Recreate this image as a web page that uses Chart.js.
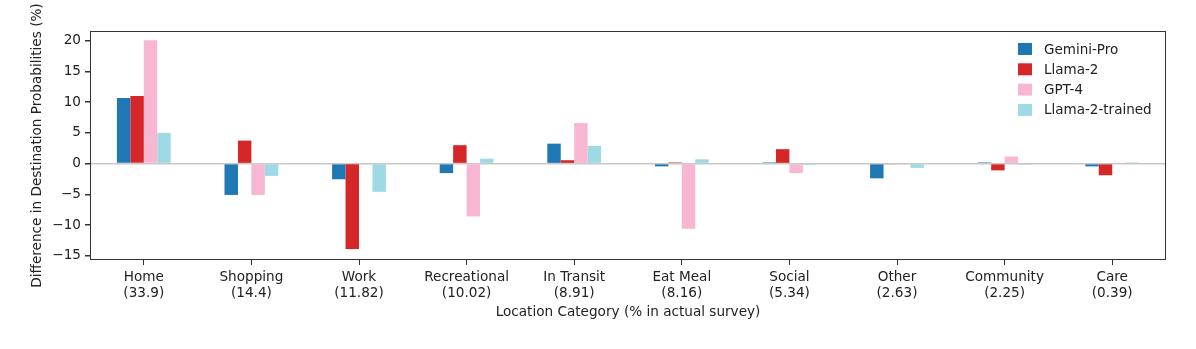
<!DOCTYPE html>
<html>
<head>
<meta charset="utf-8">
<script src="https://cdn.jsdelivr.net/npm/chart.js@4.4.1/dist/chart.umd.min.js"></script>
<style>
  html, body { margin: 0; padding: 0; background: #fff; }
  #wrap { width: 1196px; height: 349px; }
</style>
</head>
<body>
<div id="wrap"><canvas id="grafico"></canvas></div>
<script>
// categorias e valores
const categorias = [
  ['Home', '(33.9)'], ['Shopping', '(14.4)'], ['Work', '(11.82)'],
  ['Recreational', '(10.02)'], ['In Transit', '(8.91)'], ['Eat Meal', '(8.16)'],
  ['Social', '(5.34)'], ['Other', '(2.63)'], ['Community', '(2.25)'], ['Care', '(0.39)']
];
const geminiPro     = [10.7, -5.1, -2.55, -1.55, 3.25, -0.45, 0.2, -2.4, 0.2, -0.45];
const llama2        = [11.0, 3.75, -13.9, 3.0, 0.55, 0.2, 2.35, -0.1, -1.1, -1.9];
const gpt4          = [20.1, -5.1, -0.1, -8.6, 6.6, -10.6, -1.55, -0.1, 1.15, 0.05];
const llama2Trained = [5.0, -2.0, -4.6, 0.8, 2.9, 0.7, -0.25, -0.7, -0.2, 0.2];
const yTicks = [-15, -10, -5, 0, 5, 10, 15, 20];

const fonte = 'DejaVu Sans';
const tamFonte = 13.6;
const corTexto = '#222';

// moldura completa e legenda dentro da área do gráfico
const molduraELegenda = {
  id: 'molduraELegenda',
  afterDraw(chart) {
    const { ctx, chartArea: a } = chart;
    ctx.save();
    ctx.strokeStyle = '#333';
    ctx.lineWidth = 1;
    ctx.strokeRect(a.left + 0.5, a.top + 0.5, a.right - a.left - 1, a.bottom - a.top - 1);

    ctx.font = '13.5px "' + fonte + '"';
    ctx.textBaseline = 'middle';
    chart.data.datasets.forEach((ds, i) => {
      const y = 49 + i * 20.3;
      ctx.fillStyle = ds.backgroundColor;
      ctx.fillRect(1018, y - 6, 14, 12);
      ctx.fillStyle = corTexto;
      ctx.fillText(ds.label, 1044, y + 1);
    });
    ctx.restore();
  }
};

const ctx = document.getElementById('grafico').getContext('2d');
new Chart(ctx, {
  type: 'bar',
  data: {
    labels: categorias,
    datasets: [
      { label: 'Gemini-Pro', data: geminiPro, backgroundColor: '#1f77b4' },
      { label: 'Llama-2', data: llama2, backgroundColor: '#d62728' },
      { label: 'GPT-4', data: gpt4, backgroundColor: '#f7b6d2' },
      { label: 'Llama-2-trained', data: llama2Trained, backgroundColor: '#9edae5' }
    ]
  },
  options: {
    responsive: true,
    maintainAspectRatio: false,
    animation: false,
    layout: { padding: { left: 25, top: 31, right: 30, bottom: 24 } },
    datasets: { bar: { categoryPercentage: 0.5, barPercentage: 1.0 } },
    plugins: { legend: { display: false }, tooltip: { enabled: false } },
    scales: {
      x: {
        afterFit: s => { s.height = 65; },
        grid: { offset: false, drawOnChartArea: false, drawTicks: true, tickLength: 5, tickColor: '#333' },
        border: { display: false },
        ticks: { color: corTexto, font: { family: fonte, size: tamFonte }, padding: 4, maxRotation: 0, autoSkip: false },
        title: { display: true, text: 'Location Category (% in actual survey)', color: corTexto,
                 font: { family: fonte, size: tamFonte }, padding: { top: 2, bottom: 4 } }
      },
      y: {
        min: -15.7,
        max: 21.6,
        afterFit: s => { s.width = 65; },
        afterBuildTicks: s => { s.ticks = yTicks.map(v => ({ value: v })); },
        grid: {
          color: c => (c.tick && c.tick.value === 0 ? '#c8c8c8' : 'transparent'),
          lineWidth: 1.5,
          tickLength: 5,
          tickColor: '#333'
        },
        border: { display: false },
        ticks: {
          color: corTexto, font: { family: fonte, size: tamFonte }, padding: 4,
          callback: v => String(v).replace('-', '\u2212')
        },
        title: { display: true, text: 'Difference in Destination Probabilities (%)', color: corTexto,
                 font: { family: fonte, size: tamFonte }, padding: { top: 4, bottom: 4 } }
      }
    }
  },
  plugins: [molduraELegenda]
});
</script>
</body>
</html>
